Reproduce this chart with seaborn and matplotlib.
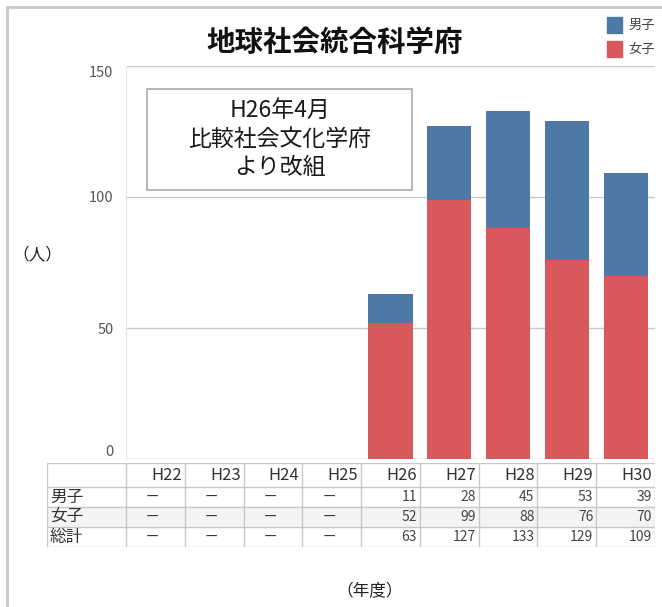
import pandas as pd
import matplotlib
matplotlib.use("Agg")
import matplotlib.pyplot as plt
import seaborn as sns
from matplotlib.patches import Rectangle

# ==================== データ ====================
years = ["H22", "H23", "H24", "H25", "H26", "H27", "H28", "H29", "H30"]
male = [None, None, None, None, 11, 28, 45, 53, 39]
female = [None, None, None, None, 52, 99, 88, 76, 70]
total = [None, None, None, None, 63, 127, 133, 129, 109]
row_labels = ["男子", "女子", "総計"]
y_ticks = [0, 50, 100, 150]

title = "地球社会統合科学府"
note = "H26年4月\n比較社会文化学府\nより改組"

# ==================== スタイル ====================
sns.set_style("white")
plt.rcParams['font.family'] = ['Noto Sans CJK JP', 'DejaVu Sans']
plt.rcParams['axes.unicode_minus'] = False

c_male = "#4e79a7"
c_female = "#d9585c"
c_grid = "#c8c8c8"

df = pd.DataFrame({"year": years, "male": male, "female": female, "total": total})
df_bar = df.dropna()

W, H = 662, 607
fig = plt.figure(figsize=(W / 100, H / 100), dpi=100)

def px(x0, y0, x1, y1):
    return [x0 / W, 1 - y1 / H, (x1 - x0) / W, (y1 - y0) / H]

# ----------------------------
# 棒グラフ
# ----------------------------
ax = fig.add_axes(px(126, 66, 655, 459))
sns.barplot(data=df_bar, x="year", y="total", order=years, color=c_male,
            width=0.75, ax=ax, saturation=1, linewidth=0)
sns.barplot(data=df_bar, x="year", y="female", order=years, color=c_female,
            width=0.75, ax=ax, saturation=1, linewidth=0)
ax.set_xlim(-0.5, len(years) - 0.5)
ax.set_ylim(0, 150)
ax.set_yticks(y_ticks)
ax.set_xticks([])
ax.set_xlabel("")
ax.set_ylabel("")
for s in ["top", "right", "bottom"]:
    ax.spines[s].set_visible(False)
ax.spines["left"].set_color("#e6e6e6")
ax.yaxis.grid(True, color=c_grid, lw=1)
ax.set_axisbelow(True)
ax.tick_params(axis="y", length=5, color=c_grid, labelsize=10.5, labelcolor="#555555", pad=4)
lbls = ax.get_yticklabels()
lbls[0].set_va("bottom")
lbls[-1].set_va("top")

# 注記ボックス
fig.patches.append(Rectangle((147 / W, 1 - 190 / H), (412 - 147) / W, (190 - 89) / H,
                             transform=fig.transFigure, fill=False, ec="#aaaaaa", lw=1.2))
fig.text(280 / W, 1 - 139 / H, note, ha="center", va="center", fontsize=16.5,
         linespacing=1.3, color="#1a1a1a")

# タイトル・凡例
fig.text(335 / W, 1 - 43 / H, title, ha="center", va="center", fontsize=20.5,
         fontweight="bold", color="#111111")
for i, (lab, c) in enumerate([("男子", c_male), ("女子", c_female)]):
    yy = 25 + i * 24
    fig.patches.append(Rectangle((607 / W, 1 - (yy + 8) / H), 15 / W, 16 / H,
                                 transform=fig.transFigure, color=c))
    fig.text(628 / W, 1 - yy / H, lab, ha="left", va="center", fontsize=9.5, color="#444444")

# 軸ラベル
fig.text(37 / W, 1 - 255 / H, "（人）", ha="center", va="center", fontsize=12, color="#222222")
fig.text(370 / W, 1 - 592 / H, "（年度）", ha="center", va="center", fontsize=12, color="#222222")

# ----------------------------
# データ表
# ----------------------------
col_w = (655 - 126) / len(years)
first_w = (126 - 47) / col_w
tab = fig.add_axes(px(47, 463, 655, 547))
tab.set_xlim(-0.5 - first_w, len(years) - 0.5)
tab.set_ylim(4, 0)
tab.axis("off")
row_h = [0, 1.15, 2.1, 3.05, 4]  # 行境界
tab.axhspan(row_h[2], row_h[3], color="#f4f4f4", zorder=0)
for yb in row_h:
    tab.axhline(yb, color=c_grid, lw=1)
for xb in [-0.5 - first_w] + [i - 0.5 for i in range(len(years) + 1)]:
    tab.axvline(xb, color=c_grid, lw=1)
for i, y in enumerate(years):
    tab.text(i + 0.45, (row_h[0] + row_h[1]) / 2, y, ha="right", va="center",
             fontsize=12, color="#333333")
for r, (lab, vals) in enumerate(zip(row_labels, [male, female, total])):
    yc = (row_h[r + 1] + row_h[r + 2]) / 2
    tab.text(-0.5 - first_w + 0.05, yc, lab, ha="left", va="center", fontsize=12,
             color="#333333")
    for i, v in enumerate(vals):
        if v is None:
            tab.text(i - 0.05, yc, "ー", ha="center", va="center", fontsize=9.5, color="#333333")
        else:
            tab.text(i + 0.45, yc, str(int(v)), ha="right", va="center", fontsize=10,
                     color="#444444")

# 外枠
fig.add_artist(plt.Line2D([7 / W, 7 / W], [0, 1 - 7 / H], transform=fig.transFigure,
                          color=c_grid, lw=2))
fig.add_artist(plt.Line2D([7 / W, 1], [1 - 7 / H, 1 - 7 / H], transform=fig.transFigure,
                          color=c_grid, lw=2))

fig.savefig("out.png", dpi=100)
plt.close(fig)
